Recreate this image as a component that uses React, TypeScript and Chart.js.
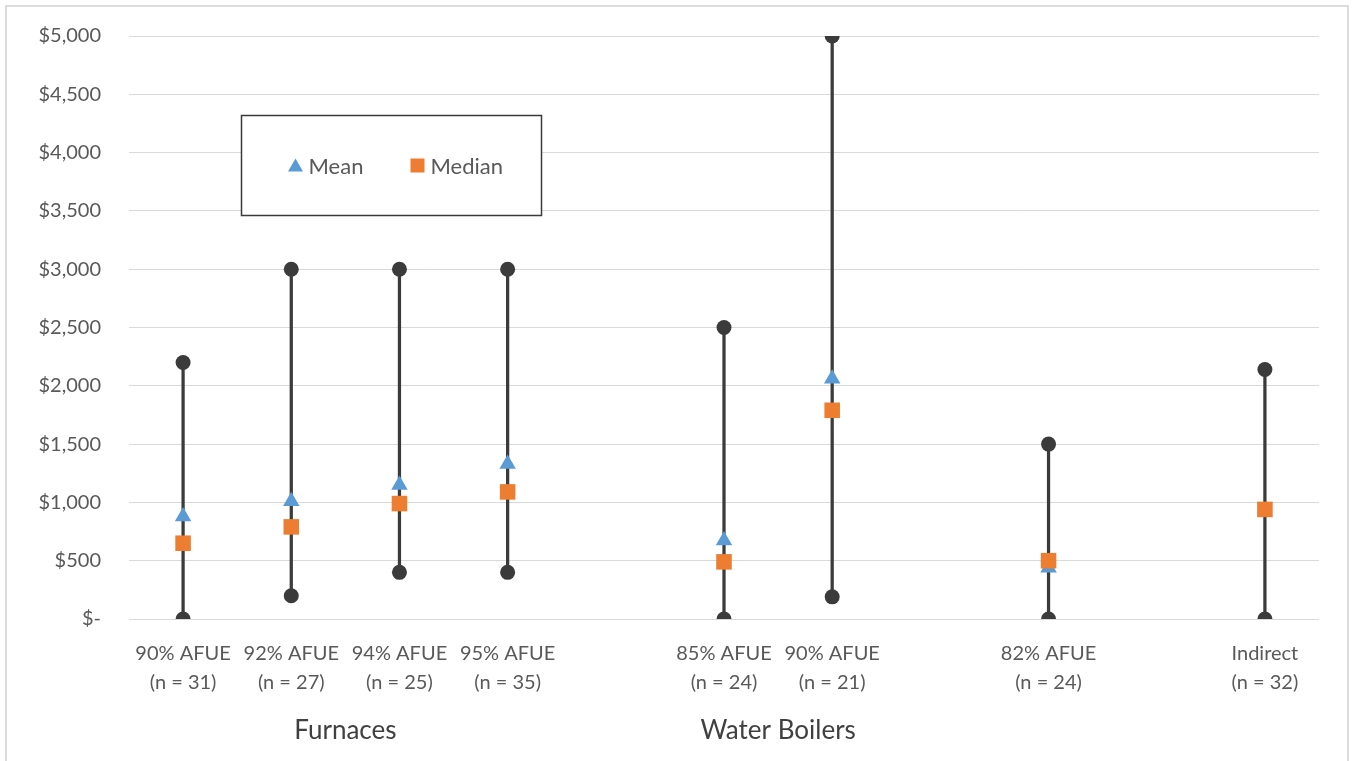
import React, { useEffect, useRef } from 'react';
import { Chart, registerables } from 'chart.js';

Chart.register(...registerables);

const categories = ['90% AFUE', '92% AFUE', '94% AFUE', '95% AFUE', '', '85% AFUE', '90% AFUE', '', '82% AFUE', '', 'Indirect'];
const sampleSizes = ['(n = 31)', '(n = 27)', '(n = 25)', '(n = 35)', '', '(n = 24)', '(n = 21)', '', '(n = 24)', '', '(n = 32)'];
const highValues = [2200, 3000, 3000, 3000, null, 2500, 5000, null, 1500, null, 2140];
const lowValues = [0, 200, 400, 400, null, 0, 190, null, 0, null, 0];
const meanValues = [880, 1010, 1150, 1330, null, 673, 2060, null, 440, null, null];
const medianValues = [650, 790, 990, 1090, null, 490, 1790, null, 500, null, 940];
const groups = [
  { label: 'Furnaces', first: 0, last: 3 },
  { label: 'Water Boilers', first: 5, last: 6 },
];
const legendOrder = ['Mean', 'Median'];
const yMin = 0;
const yMax = 5000;
const yStep = 500;

const FONT = 'Lato, "Open Sans", sans-serif';
const MEAN_COLOR = '#5B9BD5';
const MEDIAN_COLOR = '#ED7D31';
const RANGE_COLOR = '#3b3b3b';
const GRID_COLOR = '#d9d9d9';
const TEXT_COLOR = '#595959';

const groupLabelPlugin = {
  id: 'groupLabels',
  afterDraw(chart: any) {
    const ctx = chart.ctx;
    const x = chart.scales.x;
    ctx.save();
    ctx.font = `26px ${FONT}`;
    ctx.fillStyle = '#404040';
    ctx.textAlign = 'center';
    ctx.textBaseline = 'alphabetic';
    groups.forEach((g) => {
      const px = x.getPixelForValue((g.first + g.last) / 2);
      ctx.fillText(g.label, px, chart.chartArea.bottom + 120);
    });
    ctx.restore();
  },
};

const legendBoxPlugin = {
  id: 'legendBox',
  afterDraw(chart: any) {
    const ctx = chart.ctx;
    const area = chart.chartArea;
    const bx = area.left + 112.5;
    const by = area.top + 79.5;
    const bw = 300;
    const bh = 100;
    ctx.save();
    ctx.fillStyle = '#ffffff';
    ctx.fillRect(bx, by, bw, bh);
    ctx.strokeStyle = '#3a3a3a';
    ctx.lineWidth = 1.5;
    ctx.strokeRect(bx, by, bw, bh);
    const cy = by + 51;
    const items = legendOrder
      .map((name) => chart.data.datasets.find((d: any) => d.label === name))
      .filter(Boolean);
    const itemX = [bx + 54, bx + 176];
    items.forEach((d: any, i: number) => {
      const mx = itemX[i];
      ctx.fillStyle = d.pointBackgroundColor;
      ctx.beginPath();
      if (d.pointStyle === 'triangle') {
        ctx.moveTo(mx, cy - 8);
        ctx.lineTo(mx + 7.5, cy + 5);
        ctx.lineTo(mx - 7.5, cy + 5);
        ctx.closePath();
      } else {
        ctx.rect(mx - 7, cy - 8, 14, 14);
      }
      ctx.fill();
      ctx.font = `22px ${FONT}`;
      ctx.fillStyle = TEXT_COLOR;
      ctx.textAlign = 'left';
      ctx.textBaseline = 'middle';
      ctx.fillText(d.label, mx + 13, cy);
    });
    ctx.restore();
  },
};

export default function App() {
  const ref = useRef<HTMLCanvasElement | null>(null);

  useEffect(() => {
    if (!ref.current) return;
    const labels = categories.map((c, i) => [c, sampleSizes[i]]);
    const chart = new Chart(ref.current, {
      type: 'bar',
      data: {
        labels,
        datasets: [
          {
            type: 'line',
            label: 'Median',
            data: medianValues,
            showLine: false,
            pointStyle: 'rect',
            pointRadius: 11,
            pointBackgroundColor: MEDIAN_COLOR,
            pointBorderWidth: 0,
            borderColor: MEDIAN_COLOR,
            backgroundColor: MEDIAN_COLOR,
          } as any,
          {
            type: 'line',
            label: 'Mean',
            data: meanValues,
            showLine: false,
            pointStyle: 'triangle',
            pointRadius: 9.5,
            pointBackgroundColor: MEAN_COLOR,
            pointBorderWidth: 0,
            borderColor: MEAN_COLOR,
            backgroundColor: MEAN_COLOR,
          } as any,
          {
            type: 'line',
            label: 'High',
            data: highValues,
            showLine: false,
            pointStyle: 'circle',
            pointRadius: 7.5,
            pointBackgroundColor: RANGE_COLOR,
            pointBorderWidth: 0,
            borderColor: RANGE_COLOR,
            clip: 0,
          } as any,
          {
            type: 'line',
            label: 'Low',
            data: lowValues,
            showLine: false,
            pointStyle: 'circle',
            pointRadius: 7.5,
            pointBackgroundColor: RANGE_COLOR,
            pointBorderWidth: 0,
            borderColor: RANGE_COLOR,
            clip: 0,
          } as any,
          {
            type: 'bar',
            label: 'Range',
            data: lowValues.map((lo, i) => (lo === null || highValues[i] === null ? null : [lo, highValues[i]])),
            backgroundColor: RANGE_COLOR,
            barThickness: 2.6,
            borderWidth: 0,
          } as any,
        ],
      },
      options: {
        responsive: false,
        animation: false,
        events: [],
        layout: { padding: { left: 0, right: 33, top: 36, bottom: 0 } },
        plugins: {
          legend: { display: false },
          tooltip: { enabled: false },
        },
        scales: {
          x: {
            offset: true,
            grid: { display: false },
            border: { display: false },
            afterFit: (s: any) => {
              s.height = 142;
            },
            ticks: {
              autoSkip: false,
              maxRotation: 0,
              minRotation: 0,
              padding: 12,
              color: TEXT_COLOR,
              font: { family: FONT, size: 20, lineHeight: 1.45 },
            },
          },
          y: {
            min: yMin,
            max: yMax,
            grid: {
              color: GRID_COLOR,
              lineWidth: 1,
              drawTicks: true,
              tickLength: 28,
              tickColor: 'rgba(0,0,0,0)',
            },
            border: { display: false },
            afterFit: (s: any) => {
              s.width = 129;
            },
            ticks: {
              stepSize: yStep,
              padding: 0,
              color: TEXT_COLOR,
              font: { family: FONT, size: 20 },
              callback: (v: any) => (Number(v) === 0 ? '$-' : '$' + Number(v).toLocaleString('en-US')),
            },
          },
        },
      },
      plugins: [groupLabelPlugin, legendBoxPlugin],
    });
    return () => chart.destroy();
  }, []);

  return (
    <div style={{ position: 'fixed', left: 0, top: 0, width: 1352, height: 761, background: '#fff', overflow: 'hidden' }}>
      <div
        style={{
          position: 'absolute',
          left: 5,
          top: 5,
          width: 1344,
          height: 820,
          boxSizing: 'border-box',
          border: '2px solid #dcdcdc',
        }}
      />
      <canvas ref={ref} width={1352} height={761} style={{ position: 'absolute', left: 0, top: 0, width: 1352, height: 761 }} />
    </div>
  );
}
